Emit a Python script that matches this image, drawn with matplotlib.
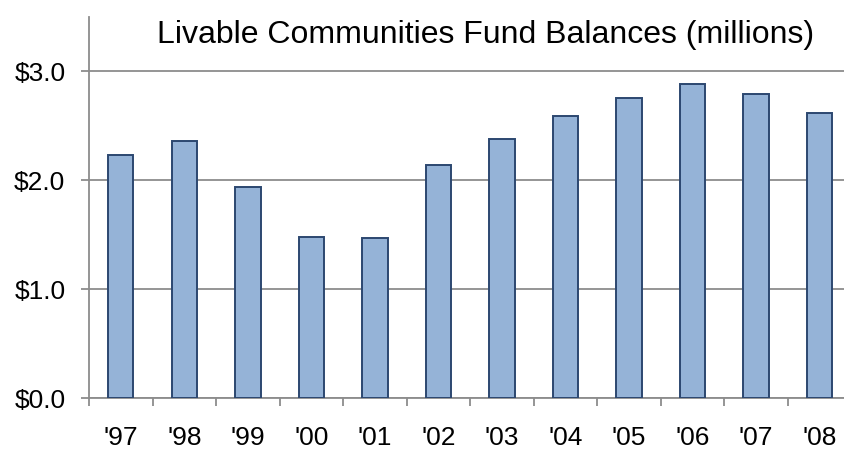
import matplotlib.pyplot as plt
import numpy as np

# fund balances in millions of dollars
years = ["'97", "'98", "'99", "'00", "'01", "'02", "'03", "'04", "'05", "'06", "'07", "'08"]
balances = [2.23, 2.36, 1.94, 1.48, 1.47, 2.14, 2.38, 2.59, 2.76, 2.88, 2.79, 2.62]
y_ticks = [0, 1, 2, 3]
y_labels = ["$0.0", "$1.0", "$2.0", "$3.0"]

plt.rcParams['font.family'] = ['Liberation Sans', 'DejaVu Sans']

fig = plt.figure(figsize=(8.44, 4.5), dpi=100)
ax = fig.add_axes([89/844, 1 - 398/450, 1 - 89/844 + 0.02, (398 - 17)/450])

x = np.arange(len(years))
ax.bar(x, balances, width=0.4, color='#95B3D7', edgecolor='#2C4770', linewidth=1.4, zorder=3)

ax.set_ylim(0, 3.5)
ax.set_xlim(-0.5, 11.386 + 0.02 * 844 / 63.52)
ax.set_yticks(y_ticks)
ax.set_yticklabels(y_labels)
ax.yaxis.grid(True, color='#8c8c8c', linewidth=1.3, zorder=0)

ax.set_xticks(np.arange(-0.5, len(years) - 0.5, 1.0))
ax.set_xticklabels([])
ax.set_xticks(x, minor=True)
ax.set_xticklabels(years, minor=True)
ax.tick_params(axis='x', which='major', length=6, width=1.3, color='#8c8c8c', direction='out')
ax.tick_params(axis='x', which='minor', length=0, pad=20, labelsize=19)
ax.tick_params(axis='y', length=6, width=1.3, color='#8c8c8c', pad=11, labelsize=19)

for side in ['top', 'right']:
    ax.spines[side].set_visible(False)
for side in ['left', 'bottom']:
    ax.spines[side].set_color('#8c8c8c')
    ax.spines[side].set_linewidth(1.3)

fig.text(486/844, 1 - 35/450, "Livable Communities Fund Balances (millions)",
         ha='center', va='center', fontsize=23)

fig.savefig('out.png', dpi=100)
